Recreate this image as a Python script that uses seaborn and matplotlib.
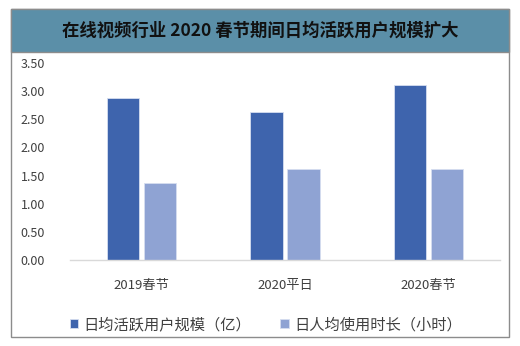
import matplotlib
matplotlib.use("Agg")
import matplotlib.pyplot as plt
import seaborn as sns
import pandas as pd
from matplotlib.patches import Rectangle

# Data
categories = ["2019春节", "2020平日", "2020春节"]
series_names = ["日均活跃用户规模（亿）", "日人均使用时长（小时）"]
dau = [2.88, 2.63, 3.11]
hours = [1.37, 1.61, 1.61]
yticks = [0.0, 0.5, 1.0, 1.5, 2.0, 2.5, 3.0, 3.5]
title = "在线视频行业 2020 春节期间日均活跃用户规模扩大"

colors = ["#3E64AD", "#8FA3D3"]

df = pd.DataFrame({
    "category": categories * 2,
    "series": [series_names[0]] * 3 + [series_names[1]] * 3,
    "value": dau + hours,
})

sns.set_theme(style="white")
plt.rcParams["font.family"] = ["Noto Sans CJK SC", "DejaVu Sans"]

fig = plt.figure(figsize=(5.2, 3.46), dpi=100)

# Outer frame and title band
fig.patches.append(Rectangle((11 / 520, 1 - 337 / 346), 498 / 520, 328 / 346,
                             transform=fig.transFigure, fill=False,
                             edgecolor="#8C8C8C", linewidth=1.0))
fig.patches.append(Rectangle((11 / 520, 1 - 52 / 346), 498 / 520, 43 / 346,
                             transform=fig.transFigure, facecolor="#5B8FA8",
                             edgecolor="#8C8C8C", linewidth=1.0))
fig.text(0.5, 1 - 31 / 346, title, ha="center", va="center",
         fontsize=12.5, fontweight="bold", color="#111111")

ax = fig.add_axes([70 / 520, 1 - 260 / 346, 430 / 520, 197 / 346])
sns.barplot(data=df, x="category", y="value", hue="series",
            palette=colors, saturation=1, width=0.516, gap=0.124, ax=ax,
            edgecolor="#D6DEF0", linewidth=0.6, legend=True)

ax.set_ylim(0, 3.5)
ax.set_yticks(yticks)
ax.set_yticklabels([f"{v:.2f}" for v in yticks])
ax.set_xlim(-0.5, 2.5)
ax.set_xlabel("")
ax.set_ylabel("")
for s in ["top", "right", "left"]:
    ax.spines[s].set_visible(False)
ax.spines["bottom"].set_color("#D9D9D9")
ax.spines["bottom"].set_linewidth(1.0)
ax.tick_params(axis="both", length=0, colors="#404040")
ax.tick_params(axis="y", pad=18, labelsize=9)
ax.tick_params(axis="x", pad=14, labelsize=9.5)
ax.patch.set_alpha(0)

leg = ax.legend(loc="upper center", bbox_to_anchor=(0.455, -0.215), ncol=2,
                frameon=False, fontsize=11, handlelength=0.55, handleheight=0.55,
                handletextpad=0.35, columnspacing=1.9)
for t in leg.get_texts():
    t.set_color("#404040")

fig.savefig("out.png", dpi=100)
